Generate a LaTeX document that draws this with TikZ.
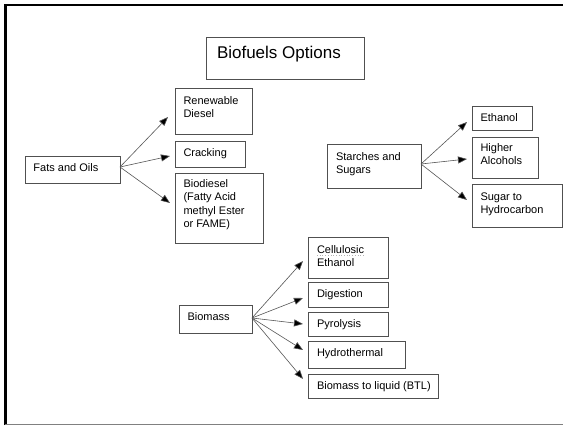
\documentclass[tikz,border=0pt]{standalone}
\usepackage{fontspec}
\setmainfont{Liberation Sans}
\usetikzlibrary{arrows.meta}
\definecolor{edgecol}{HTML}{555555}
\definecolor{boxline}{HTML}{505050}
\tikzset{
  bx/.style={draw=boxline, line width=0.8pt, inner sep=0pt, outer sep=0pt, anchor=north west,
             font=\fontsize{11pt}{13.5pt}\selectfont},
  arr/.style={draw=edgecol, line width=0.6pt, -{Triangle[length=9pt,width=7pt,fill=black]}},
}
% name, x, y, width, height, first-baseline offset, left pad, text
\newcommand{\boxnode}[8]{%
  \node[bx] (#1) at (#2pt,-#3pt)
    {\parbox[t][#5pt][t]{#4pt}{\raggedright\leftskip=#7pt\relax\rule{0pt}{#6pt}#8}};}
\begin{document}
\begin{tikzpicture}
\useasboundingbox (0,0) rectangle (563pt,-426pt);
% frame
\draw[black, line width=2.2pt] (5.5pt,-425pt) -- (5.5pt,-5pt) -- (563pt,-5pt);
\draw[gray, line width=1pt] (5pt,-424.5pt) -- (563pt,-424.5pt);
% boxes
\boxnode{title}{206}{37}{158}{42}{21}{11}{\fontsize{17pt}{20pt}\selectfont Biofuels Options}
\boxnode{fo}{25}{156}{95}{27}{15}{8.5}{Fats and Oils}
\boxnode{rd}{175}{88}{77}{46}{16}{8.5}{Renewable\\Diesel}
\boxnode{cr}{175}{141}{70}{26}{15}{8.5}{Cracking}
\boxnode{bd}{175}{173}{88}{70}{14}{8.5}{Biodiesel\\(Fatty Acid\\methyl Ester\\or FAME)}
\boxnode{ss}{327}{144}{94}{44}{16}{9}{Starches and\\Sugars}
\boxnode{eth}{472}{106}{60}{24}{15}{8.5}{Ethanol}
\boxnode{ha}{472}{137}{66}{41}{14}{8.5}{Higher\\Alcohols}
\boxnode{sh}{472}{184}{90}{43}{16}{8.5}{Sugar to\\Hydrocarbon}
\boxnode{bm}{179}{305}{73}{28}{15}{8.5}{Biomass}
\boxnode{ce}{308}{237}{80}{41}{16}{9}{Cellulosic\\Ethanol}
\boxnode{dg}{308}{282}{80}{25}{15}{9}{Digestion}
\boxnode{py}{308}{312}{80}{24}{15}{9}{Pyrolysis}
\boxnode{hy}{308}{341}{97}{27}{15}{9}{Hydrothermal}
\boxnode{bt}{308}{374}{130}{24}{15}{9}{Biomass to liquid (BTL)}
% spell-check underline
\draw[gray!60, line width=0.7pt, dotted] ([xshift=9pt,yshift=-18.5pt]ce.north west) -- ++(47pt,0);
% connectors
\draw[arr] ([yshift=2.5pt]fo.east) -- ([xshift=-7pt,yshift=-6pt]rd.west);
\draw[arr] ([yshift=2.5pt]fo.east) -- ([xshift=-5pt,yshift=-2pt]cr.west);
\draw[arr] ([yshift=2.5pt]fo.east) -- ([xshift=-5pt,yshift=5pt]bd.west);
\draw[arr] ([yshift=2pt]ss.east) -- ([xshift=-5pt,yshift=-4pt]eth.west);
\draw[arr] ([yshift=2pt]ss.east) -- ([xshift=-5pt,yshift=-1.5pt]ha.west);
\draw[arr] ([yshift=2pt]ss.east) -- ([xshift=-5pt,yshift=5.5pt]sh.west);
\draw[arr] ([yshift=1pt]bm.east) -- ([xshift=-5pt,yshift=-3.5pt]ce.west);
\draw[arr] ([yshift=1pt]bm.east) -- ([xshift=-5pt,yshift=-3.5pt]dg.west);
\draw[arr] ([yshift=1pt]bm.east) -- ([xshift=-5pt]py.west);
\draw[arr] ([yshift=1pt]bm.east) -- ([xshift=-5pt,yshift=4.5pt]hy.west);
\draw[arr] ([yshift=1pt]bm.east) -- ([xshift=-5pt,yshift=7pt]bt.west);
\end{tikzpicture}
\end{document}
